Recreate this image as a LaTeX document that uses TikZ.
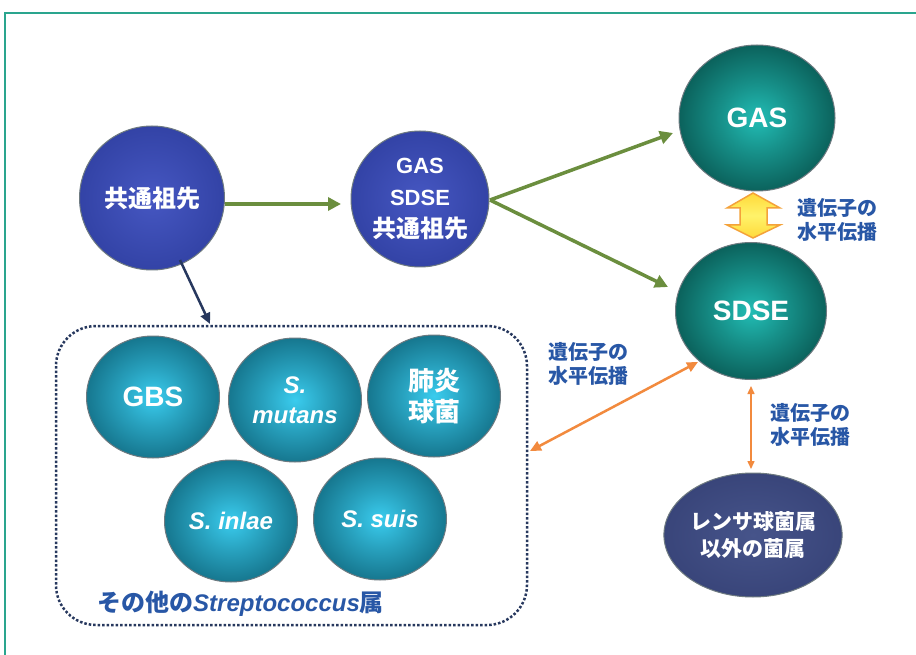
\documentclass[tikz,border=0pt]{standalone}
\usepackage{fontspec}
\setmainfont{Liberation Sans}
\newfontfamily\jp{Noto Sans CJK JP}
\usetikzlibrary{shapes.geometric,arrows.meta}
\definecolor{framec}{HTML}{2AA58E}
\definecolor{greenar}{HTML}{6B8E3E}
\definecolor{navyar}{HTML}{27385E}
\definecolor{orangear}{HTML}{F28A3E}
\definecolor{labblue}{HTML}{2857A6}
\definecolor{rimc}{HTML}{6E7A80}
\definecolor{blueA}{HTML}{4657C2}
\definecolor{blueB}{HTML}{3343A6}
\definecolor{tealA}{HTML}{22BDB5}
\definecolor{tealB}{HTML}{0B625C}
\definecolor{cyanA}{HTML}{3ACCEE}
\definecolor{cyanB}{HTML}{16778F}
\definecolor{slateA}{HTML}{46548A}
\definecolor{slateB}{HTML}{39457A}
\definecolor{yelA}{HTML}{FFF36A}
\definecolor{yelB}{HTML}{FFD93A}
\definecolor{yelrim}{HTML}{F4A23A}
\pgfdeclareradialshading{blueball}{\pgfpoint{0bp}{0bp}}{color(0bp)=(blueA); color(25bp)=(blueB); color(50bp)=(blueB)}
\pgfdeclareradialshading{tealball}{\pgfpoint{0bp}{0bp}}{color(0bp)=(tealA); color(12bp)=(tealA!50!tealB); color(25bp)=(tealB); color(50bp)=(tealB)}
\pgfdeclareradialshading{cyanball}{\pgfpoint{0bp}{0bp}}{color(0bp)=(cyanA); color(12bp)=(cyanA!50!cyanB); color(25bp)=(cyanB); color(50bp)=(cyanB)}
\pgfdeclareradialshading{slateball}{\pgfpoint{0bp}{0bp}}{color(0bp)=(slateA); color(25bp)=(slateB); color(50bp)=(slateB)}
\tikzset{
  ball/.style={ellipse, inner sep=0pt, draw=rimc, line width=1pt, text=white, align=center},
  blueb/.style={ball, shading=blueball},
  tealb/.style={ball, shading=tealball},
  cyanb/.style={ball, shading=cyanball},
  slateb/.style={ball, shading=slateball},
  greenarrow/.style={draw=greenar, line width=3.5pt, -{Triangle[length=13pt,width=13pt]}},
  navyarrow/.style={draw=navyar, line width=2.5pt, -{Triangle[length=11pt,width=10pt]}},
  orangearrow/.style={draw=orangear, line width=2.5pt, {Triangle[length=11pt,width=10pt]}-{Triangle[length=11pt,width=10pt]}},
  orangethin/.style={draw=orangear, line width=1.5pt, {Triangle[length=8pt,width=7pt]}-{Triangle[length=8pt,width=7pt]}},
  hgtlabel/.style={text=labblue, align=left, font=\jp\bfseries\fontsize{20}{24}\selectfont, inner sep=0pt, anchor=west},
}
\begin{document}
\begin{tikzpicture}[x=1pt,y=-1pt]
\useasboundingbox (0,0) rectangle (916,655);
\fill[white] (0,0) rectangle (916,655);
% frame
\draw[framec, line width=1.5pt] (5,660) -- (5,13) -- (920,13);
% dotted group box
\draw[navyar, line width=2.5pt, dash pattern=on 2.5pt off 2pt, rounded corners=40pt] (56,326) rectangle (527,625);
% top nodes
\node[blueb, minimum width=145pt, minimum height=144pt, font=\jp\bfseries\fontsize{24}{30}\selectfont] (anc) at (152,198)
  {共通祖先};
\node[blueb, minimum width=138pt, minimum height=136pt, font=\bfseries\fontsize{22}{32}\selectfont] (gsanc) at (420,199)
  {GAS\\SDSE\\{\jp\fontsize{24}{32}\selectfont 共通祖先}};
\node[tealb, minimum width=156pt, minimum height=146pt, font=\bfseries\fontsize{28}{32}\selectfont] (gas) at (757,118)
  {GAS};
\node[tealb, minimum width=151pt, minimum height=137pt, font=\bfseries\fontsize{28}{32}\selectfont] (sdse) at (751,311)
  {SDSE};
\node[slateb, minimum width=133pt, minimum height=124pt, font=\jp\bfseries\fontsize{21}{27}\selectfont] (other) at (753,535)
  {レンサ球菌属\\以外の菌属};
% group members
\node[cyanb, minimum width=133pt, minimum height=122pt, font=\bfseries\fontsize{28}{32}\selectfont] (gbs) at (153,397)
  {GBS};
\node[cyanb, minimum width=133pt, minimum height=124pt, font=\bfseries\itshape\fontsize{24}{30}\selectfont] (mut) at (295,400)
  {S.\\mutans};
\node[cyanb, minimum width=133pt, minimum height=122pt, font=\jp\bfseries\fontsize{26}{31}\selectfont] (pne) at (434,396)
  {肺炎\\球菌};
\node[cyanb, minimum width=133pt, minimum height=122pt, font=\bfseries\itshape\fontsize{24}{26}\selectfont] (ini) at (231,521)
  {S. inlae};
\node[cyanb, minimum width=133pt, minimum height=122pt, font=\bfseries\itshape\fontsize{24}{26}\selectfont] (sui) at (380,519)
  {S. suis};
\node[anchor=west, inner sep=0pt, text=labblue, font=\bfseries\fontsize{24}{26}\selectfont] (grplab) at (97,604)
  {{\jp その他の}\textit{Streptococcus}{\jp 属}};
% arrow end coordinates
\coordinate (g1s) at (225,204);
\coordinate (g1e) at (341,204);
\coordinate (fork) at (490,200);
\coordinate (gtip) at (673,133);
\coordinate (stip) at (668,287);
\coordinate (nvs) at (180,260);
\coordinate (nve) at (210,324);
\coordinate (ors) at (530,451);
\coordinate (ore) at (698,362);
\coordinate (ovs) at (751,386);
\coordinate (ove) at (751,469);
% connectors
\draw[greenarrow] (g1s) -- (g1e);
\draw[greenarrow] (fork) -- (gtip);
\draw[greenarrow] (fork) -- (stip);
\draw[navyarrow] (nvs) -- (nve);
\draw[orangearrow] (ors) -- (ore);
\draw[orangethin] (ovs) -- (ove);
% yellow block double arrow
\draw[yelrim, line width=1.5pt, top color=yelB, bottom color=yelB, middle color=yelA]
  (753,193) -- (780,208) -- (767,208) -- (767,225) -- (780,225) -- (753,238)
  -- (727,225) -- (740,225) -- (740,208) -- (727,208) -- cycle;
% labels
\node[hgtlabel] (lab1) at (797,220) {遺伝子の\\水平伝播};
\node[hgtlabel] (lab2) at (548,364) {遺伝子の\\水平伝播};
\node[hgtlabel] (lab3) at (770,425) {遺伝子の\\水平伝播};
\end{tikzpicture}
\end{document}
